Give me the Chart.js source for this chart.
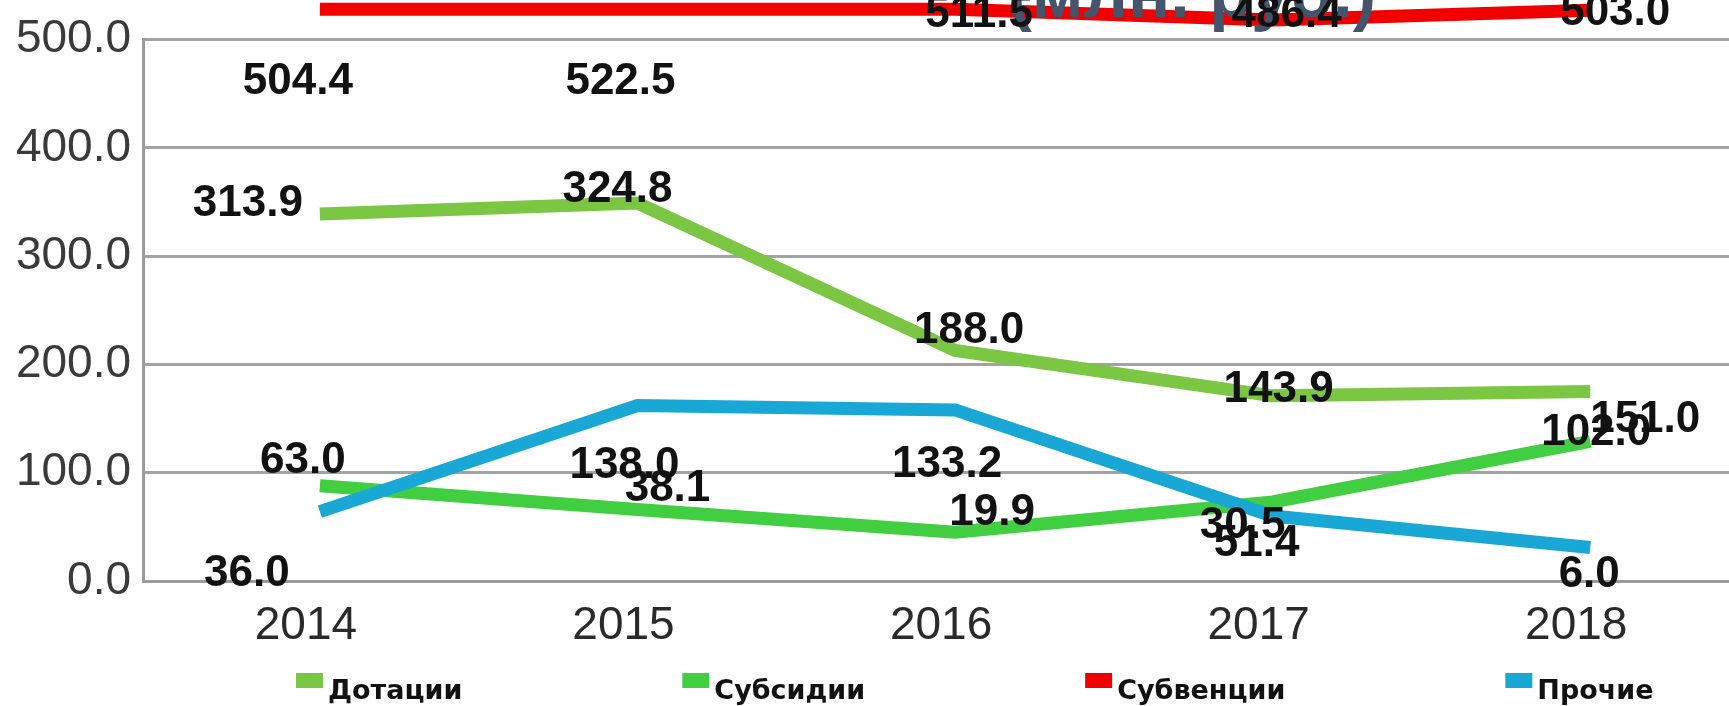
<!DOCTYPE html>
<html>
<head>
<meta charset="utf-8">
<script src="https://cdn.jsdelivr.net/npm/chart.js@4.4.0/dist/chart.umd.min.js"></script>
<style>
  html, body { margin: 0; padding: 0; background: #fff; overflow: hidden; }
  #wrap { position: relative; width: 1729px; height: 706px; }
</style>
</head>
<body>
<div id="wrap"><canvas id="chart" width="1729" height="706"></canvas></div>
<script>
const years = [2014, 2015, 2016, 2017, 2018];

// heights of the lines as they are drawn
const dotacii = [339, 349, 213, 171, 175];
const subsidii = [88, 66, 45, 73, 129];
const subvencii = [528, 528, 528, 518, 527];
const prochie = [64, 162, 158, 60, 31];

// numbers printed next to the points
const dotaciiLabels = ["313.9", "324.8", "188.0", "143.9", "151.0"];
const subsidiiLabels = ["63.0", "38.1", "19.9", "51.4", "102.0"];
const subvenciiLabels = ["504.4", "522.5", "511.5", "486.4", "503.0"];
const prochieLabels = ["36.0", "138.0", "133.2", "30.5", "6.0"];

const seriesNames = ["Дотации", "Субсидии", "Субвенции", "Прочие"];
const titleText = "(млн. руб.)";

// where each printed number sits relative to its point (px)
const labelShift = [
  [[-72, -10], [-20, -13], [14, -20], [6, -6], [55, 28]],
  [[-17, -25], [30, -21], [37, -19], [-16, 42], [6, -8]],
  [[-22, 73], [-17, 73], [24, 6], [14, -5], [25, 2]],
  [[-73, 62], [-13, 60], [-8, 55], [-30, 10], [-1, 27]]
];

const colors = ["#7bc642", "#41cf41", "#f20000", "#19a7d6"];
const FONT = "'Liberation Sans', Arial, sans-serif";

Chart.defaults.font.family = FONT;

const overlay = {
  id: "overlay",
  afterDatasetsDraw(chart) {
    const ctx = chart.ctx;
    ctx.save();
    // title, mostly cut off at the top
    ctx.font = "bold 70px " + FONT;
    ctx.fillStyle = "#44546a";
    ctx.textAlign = "right";
    ctx.textBaseline = "alphabetic";
    ctx.fillText(titleText, 1376, 17);

    // value labels
    const labels = [dotaciiLabels, subsidiiLabels, subvenciiLabels, prochieLabels];
    ctx.font = "bold 44px " + FONT;
    ctx.fillStyle = "#111";
    ctx.textAlign = "center";
    ctx.textBaseline = "middle";
    labels.forEach((arr, i) => {
      const meta = chart.getDatasetMeta(i);
      arr.forEach((txt, j) => {
        const p = meta.data[j];
        const s = labelShift[i][j];
        ctx.fillText(txt, p.x + s[0], p.y + s[1]);
      });
    });

    // legend
    ctx.font = "bold 27px 'DejaVu Sans', sans-serif";
    ctx.textAlign = "left";
    ctx.textBaseline = "alphabetic";
    let x = 296;
    seriesNames.forEach((name, i) => {
      ctx.fillStyle = colors[i];
      ctx.fillRect(x, 673, 27, 15);
      ctx.fillStyle = "#111";
      ctx.fillText(name, x + 32, 699);
      x += 32 + ctx.measureText(name).width + 220;
    });
    ctx.restore();
  }
};

const series = [dotacii, subsidii, subvencii, prochie];

new Chart(document.getElementById("chart"), {
  type: "line",
  data: {
    datasets: series.map((vals, i) => ({
      label: seriesNames[i],
      data: years.map((y, j) => ({ x: y, y: vals[j] })),
      borderColor: colors[i],
      backgroundColor: colors[i],
      borderWidth: 13,
      pointRadius: 0,
      tension: 0,
      clip: false,
      order: i === 3 ? 0 : 1
    }))
  },
  options: {
    responsive: false,
    animation: false,
    layout: { padding: { top: 33, right: 0, bottom: 0, left: 0 } },
    plugins: {
      legend: { display: false },
      tooltip: { enabled: false },
      title: { display: false }
    },
    scales: {
      x: {
        type: "linear",
        min: 2013.443,
        max: 2018.437,
        afterBuildTicks: s => { s.ticks = years.map(v => ({ value: v })); },
        afterFit: s => { s.height = 125; },
        grid: { display: false, drawTicks: false },
        border: { display: true, color: "#9b9b9b", width: 3 },
        ticks: {
          callback: v => String(v),
          font: { size: 46 },
          color: "#2a2a2a",
          padding: 18,
          labelOffset: -14,
          maxRotation: 0
        }
      },
      y: {
        min: 0,
        max: 500,
        afterFit: s => { s.width = 143; },
        grid: { color: "#a3a3a3", lineWidth: 3, drawTicks: false },
        border: { display: true, color: "#9b9b9b", width: 3 },
        ticks: {
          stepSize: 100,
          callback: v => v.toFixed(1),
          font: { size: 46 },
          color: "#3a3a3a",
          padding: 12
        }
      }
    }
  },
  plugins: [overlay]
});
</script>
</body>
</html>
